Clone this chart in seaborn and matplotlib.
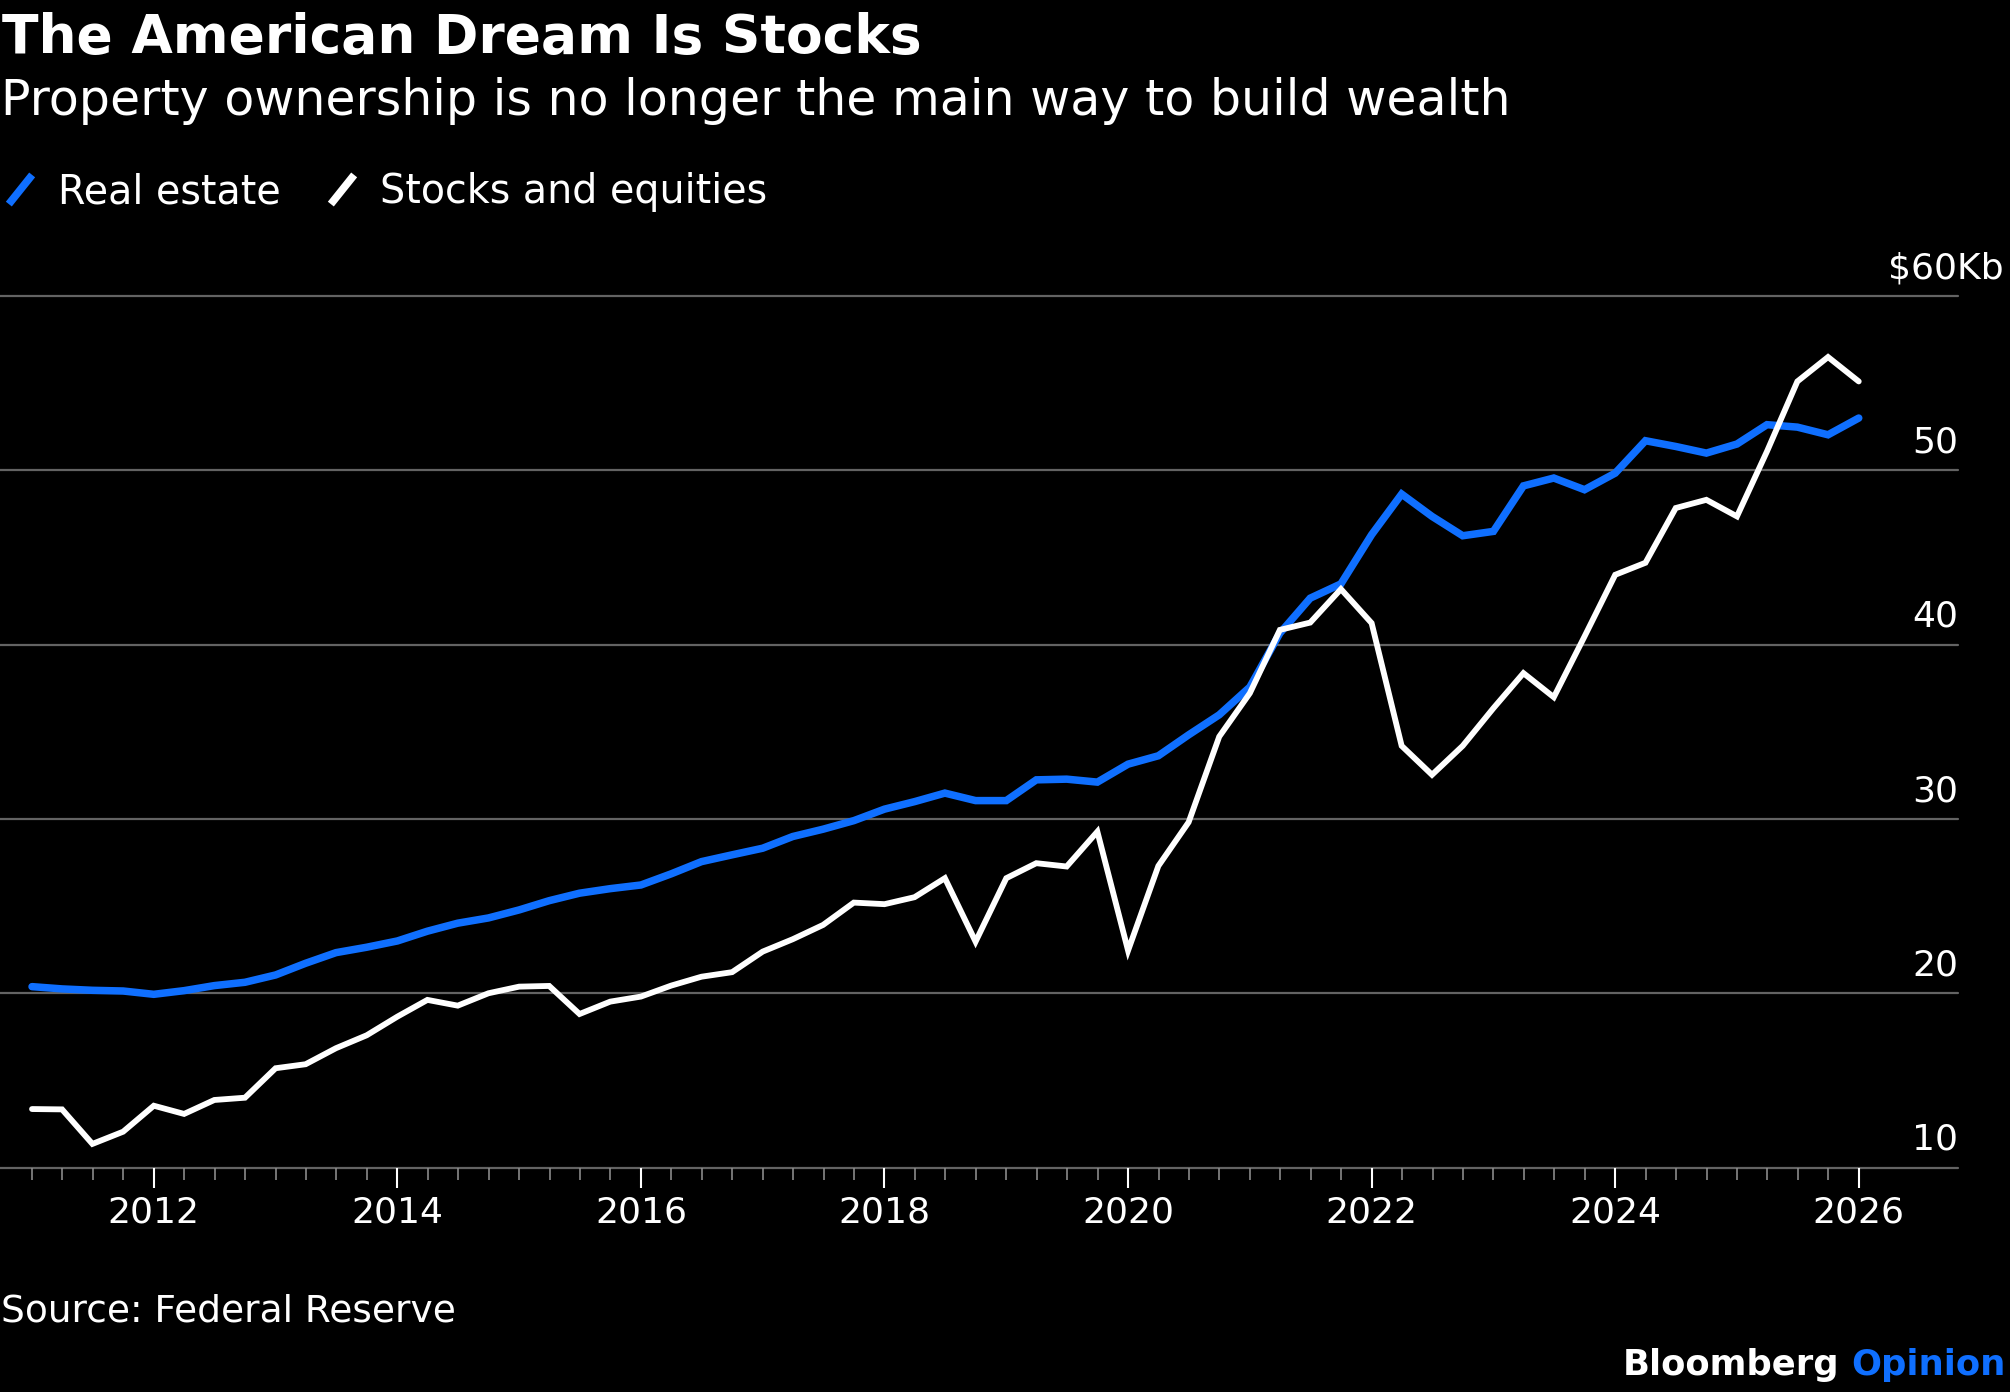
import numpy as np
import pandas as pd
import matplotlib
matplotlib.use("Agg")
import matplotlib.pyplot as plt
import matplotlib.transforms as mtransforms
from matplotlib.lines import Line2D
from matplotlib.path import Path
import seaborn as sns

# ---------------- data ----------------
quarter_ends = pd.date_range("2010-12-31", periods=61, freq="QE")

real_estate = [20.39, 20.26, 20.18, 20.14, 19.95, 20.16, 20.45, 20.64, 21.06, 21.73, 22.34,
               22.65, 23.01, 23.57, 24.03, 24.33, 24.79, 25.32, 25.75, 26.01, 26.22, 26.86,
               27.56, 27.95, 28.33, 29.00, 29.42, 29.91, 30.57, 31.00, 31.49, 31.06, 31.06,
               32.25, 32.29, 32.12, 33.15, 33.63, 34.83, 35.98, 37.57, 40.66, 42.67,
               43.49, 46.31, 48.64, 47.36, 46.25, 46.50, 49.11, 49.56, 48.89, 49.84,
               51.70, 51.37, 50.99, 51.51, 52.62, 52.48, 52.04, 53.00]

stocks = [13.37, 13.35, 11.37, 12.07, 13.56, 13.09, 13.89, 14.02, 15.71, 15.94, 16.86,
          17.60, 18.67, 19.63, 19.30, 20.01, 20.39, 20.43, 18.82, 19.53, 19.82, 20.45,
          20.96, 21.22, 22.40, 23.11, 23.93, 25.21, 25.12, 25.52, 26.61, 22.97, 26.61,
          27.47, 27.28, 29.28, 22.46, 27.31, 29.82, 34.73, 37.22, 40.85, 41.27,
          43.19, 41.24, 34.20, 32.54, 34.20, 36.36, 38.37, 36.99, 40.47, 44.01,
          44.70, 47.84, 48.31, 47.36, 51.09, 55.10, 56.50, 55.10]

series_names = ["Real estate", "Stocks and equities"]
year_ticks = [2012, 2014, 2016, 2018, 2020, 2022, 2024, 2026]
year_labels = [str(y) for y in year_ticks]
value_ticks = [10, 20, 30, 40, 50, 60]
value_labels = ["10", "20", "30", "40", "50", r"\$60Kb"]

title = "The American Dream Is Stocks"
subtitle = "Property ownership is no longer the main way to build wealth"
source = "Source: Federal Reserve"

# ---------------- style ----------------
BLUE = "#0F6FFF"
WHITE = "#FFFFFF"
GRID = "#636363"
MINOR = "#8a8a8a"

sns.set_theme(style="dark", rc={
    "axes.facecolor": "black",
    "figure.facecolor": "black",
    "savefig.facecolor": "black",
    "text.color": "white",
    "xtick.color": "white",
    "ytick.color": "white",
    "xtick.bottom": True,
})
plt.rcParams["font.family"] = ["DejaVu Sans"]

frac_year = quarter_ends.year + quarter_ends.dayofyear / (365 + quarter_ends.is_leap_year.astype(int))
df = pd.DataFrame({
    "year": np.concatenate([frac_year, frac_year]),
    "value": real_estate + stocks,
    "series": [series_names[0]] * len(real_estate) + [series_names[1]] * len(stocks),
})

W, H = 2010, 1392
fig = plt.figure(figsize=(W / 100, H / 100), dpi=100)
ax = fig.add_axes([0, 1 - 1167.8 / H, 1958 / W, (1167.8 - 296) / H])

ax.set_xlim(2010.737, 2026.815)
ax.set_ylim(10, 60)

# grid lines (incl. baseline)
for v in value_ticks:
    ax.axhline(v, color=GRID, lw=1.6, zorder=0.5, clip_on=False)

sns.lineplot(data=df[df.series == series_names[0]], x="year", y="value",
             color=BLUE, linewidth=5.4, ax=ax, legend=False, zorder=3)
sns.lineplot(data=df[df.series == series_names[1]], x="year", y="value",
             color=WHITE, linewidth=4.2, ax=ax, legend=False, zorder=4)
for ln in ax.get_lines():
    ln.set_solid_joinstyle("miter")

ax.set_xlabel("")
ax.set_ylabel("")
for s in ax.spines.values():
    s.set_visible(False)
ax.grid(False)

# x ticks
ax.set_xticks(year_ticks)
ax.set_xticklabels(year_labels)
ax.set_xticks(np.arange(2011, 2026.01, 0.25), minor=True)
ax.tick_params(axis="x", which="both", bottom=True, top=False)
ax.tick_params(axis="x", which="major", length=14.4, width=1.5, color="white",
               labelsize=26, labelcolor="white", pad=5.5, direction="out")
ax.tick_params(axis="x", which="minor", length=8.6, width=1.2, color=MINOR, direction="out")
ax.set_yticks([])

# y value labels, right aligned above gridlines
base = mtransforms.blended_transform_factory(ax.transAxes, ax.transData)
for v, lab in zip(value_ticks, value_labels):
    dx = 46 if "Kb" in lab else 0
    tr = mtransforms.offset_copy(base, fig=fig, x=dx, y=18, units="dots")
    ax.text(1.0, v, lab, transform=tr, ha="right", va="baseline",
            fontsize=26, color="white", clip_on=False)

# titles
fig.text(0.001, 1 - 53 / H, title, fontsize=38.5, fontweight="bold",
         color="white", ha="left", va="baseline")
fig.text(0.0005, 1 - 115 / H, subtitle, fontsize=35.3,
         color="white", ha="left", va="baseline")

# legend with slash markers
slash = Path([(-0.4, -0.5), (0.4, 0.5)], [Path.MOVETO, Path.LINETO])
handles = [
    Line2D([], [], linestyle="none", marker=slash, markersize=21,
           markeredgewidth=5.5, markeredgecolor=BLUE, markerfacecolor="none"),
    Line2D([], [], linestyle="none", marker=slash, markersize=21,
           markeredgewidth=5.5, markeredgecolor=WHITE, markerfacecolor="none"),
]
fig.legend(handles, series_names, loc="center left", bbox_to_anchor=(0, 1 - 192 / H),
           ncol=2, frameon=False, fontsize=28.5, handlelength=1.0,
           handletextpad=0.46, columnspacing=1.04, borderpad=0, borderaxespad=0,
           labelcolor="white", numpoints=1)

# footer
fig.text(0.0005, 1 - 1322 / H, source, fontsize=27, color="white",
         ha="left", va="baseline")
op = fig.text(2006 / W, 1 - 1375 / H, "Opinion", fontsize=25.5, fontweight="bold",
              color=BLUE, ha="right", va="baseline")
ax.annotate("Bloomberg", xy=(0, 0), xycoords=op, xytext=(-12, 0),
            textcoords="offset pixels", ha="right", va="bottom",
            fontsize=25.5, fontweight="bold", color="white", annotation_clip=False)

fig.savefig("out.png", dpi=100, facecolor="black")
